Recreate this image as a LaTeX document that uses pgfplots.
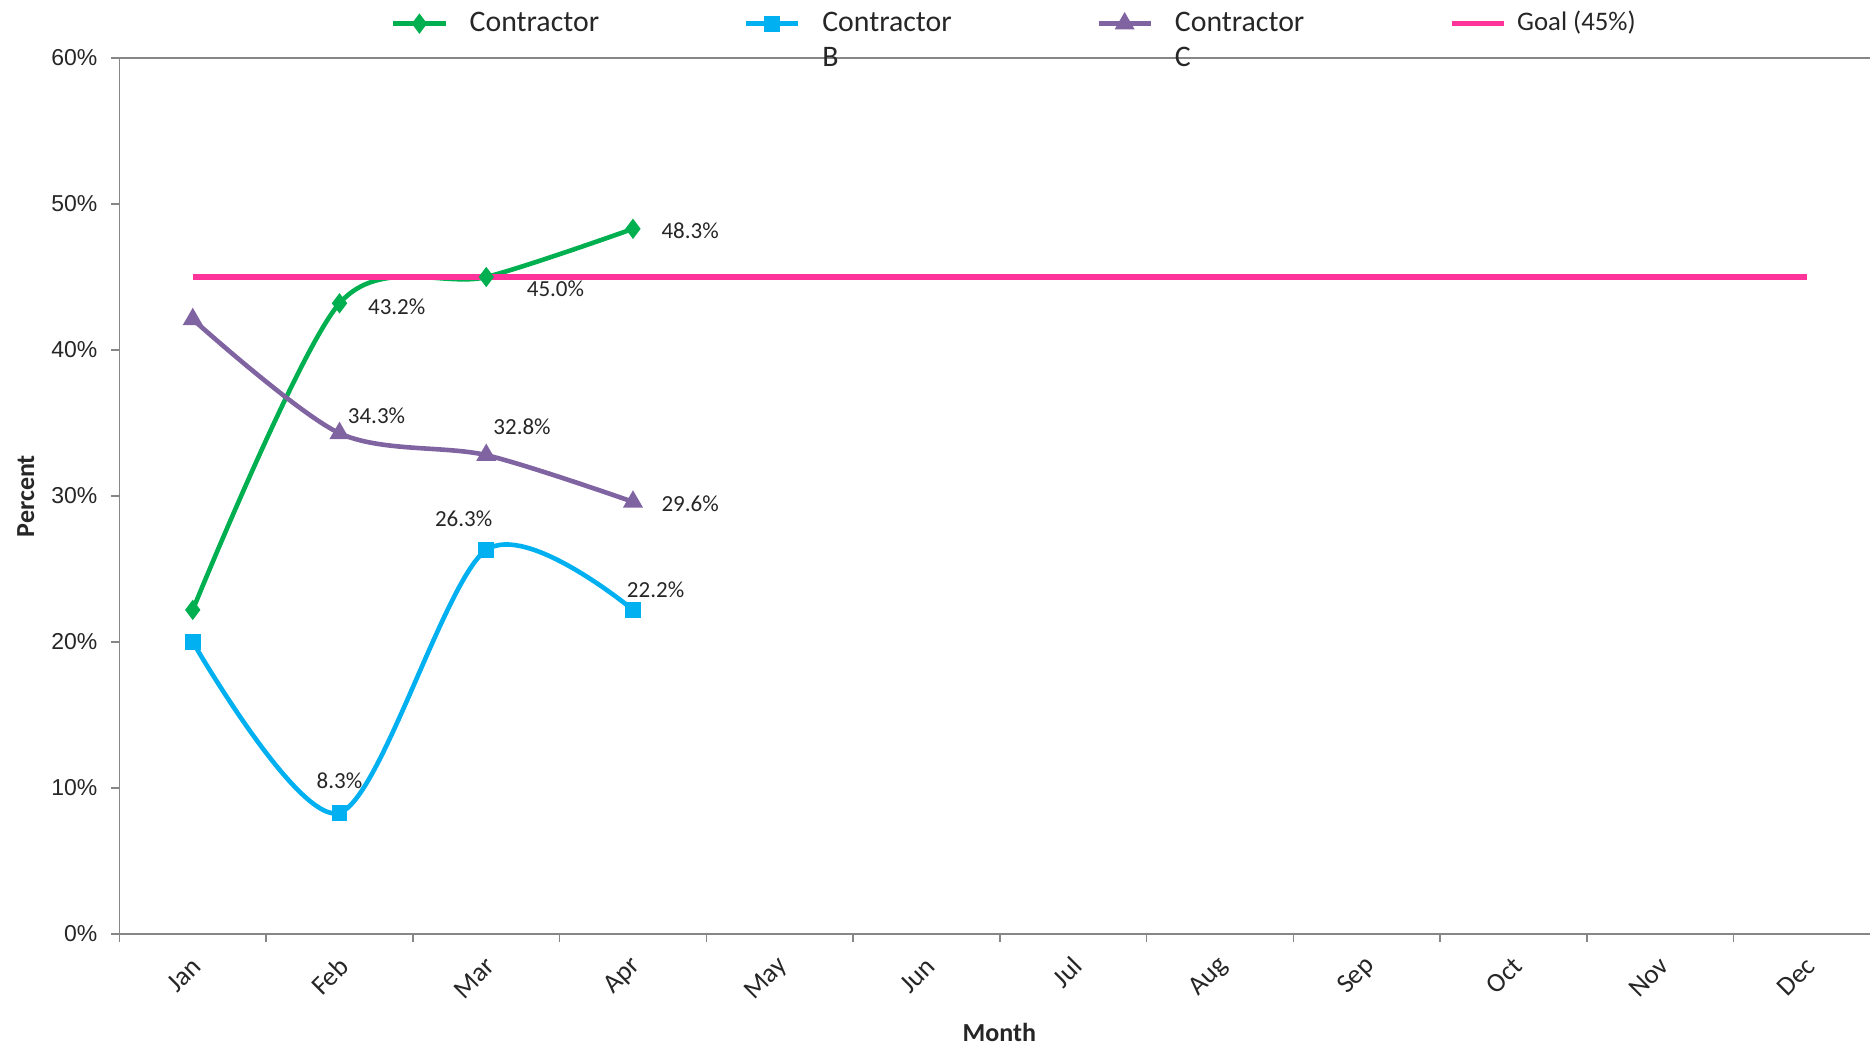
\documentclass[border=0pt]{standalone}
\usepackage{pgfplots}
\pgfplotsset{compat=1.18}
\usepackage{pgfplotstable}
\usepackage{fontspec}
\setmainfont{Carlito}
\newfontfamily\arialfont{Liberation Sans}
\definecolor{cgreen}{RGB}{0,176,80}
\definecolor{cblue}{RGB}{0,176,240}
\definecolor{cpurple}{RGB}{128,100,162}
\definecolor{cpink}{RGB}{255,51,153}
\definecolor{axgray}{RGB}{134,134,134}
\definecolor{txt}{RGB}{38,38,38}

\pgfplotstableread{
x y
0 22.2
1 43.2
2 45.0
3 48.3
}\greendata
\pgfplotstableread{
x y
0 20.0
1 8.3
2 26.3
3 22.2
}\bluedata
\pgfplotstableread{
x y
0 42.1
1 34.3
2 32.8
3 29.6
}\purpledata
\pgfplotstableread{
x y
0 45
1 45
2 45
3 45
4 45
5 45
6 45
7 45
8 45
9 45
10 45
11 45
}\goaldata
\pgfplotstableread{
x y dx dy
1 43.2 28.6 -1.8
2 45.0 34.6 -6
3 48.3 28.6 -1.2
1 34.3 18.5 8.9
2 32.8 17.9 14.3
3 29.6 28.6 -1.2
1 8.3 0 16.1
2 26.3 -11.3 15.5
3 22.2 11.3 10.1
}\labeldata

\begin{document}
\begin{tikzpicture}
\begin{axis}[
  scale only axis, width=875.3pt, height=438pt,
  xmin=-0.5, xmax=11.43, ymin=0, ymax=60,
  axis x line*=bottom, axis y line*=left,
  axis line style={draw=axgray, line width=0.8pt, -},
  tick align=outside,
  tick style={draw=axgray, line width=0.8pt},
  major tick length=4pt,
  /pgf/number format/assume math mode=true,
  xtick={-0.5,0.5,1.5,2.5,3.5,4.5,5.5,6.5,7.5,8.5,9.5,10.5},
  xticklabels={},
  extra x ticks={0,1,2,3,4,5,6,7,8,9,10,11},
  extra x tick labels={Jan,Feb,Mar,Apr,May,Jun,Jul,Aug,Sep,Oct,Nov,Dec},
  extra x tick style={major tick length=0pt},
  xticklabel style={xshift=4.5pt, yshift=-11.5pt, rotate=45, anchor=east, font=\fontsize{13.5}{15}\selectfont, text=txt},
  ytick={0,10,20,30,40,50,60},
  yticklabels={0\%,10\%,20\%,30\%,40\%,50\%,60\%},
  yticklabel style={xshift=-3.5pt, font=\arialfont\fontsize{11.5}{13}\selectfont, text=txt},
  extra y ticks={60}, extra y tick labels={},
  extra y tick style={grid=major, major grid style={draw=axgray, line width=0.8pt}},
  xlabel={Month},
  xlabel style={at={(axis description cs:0.5027,-0.1128)}, anchor=center, font=\bfseries\fontsize{13}{15}\selectfont, text=txt},
  ylabel={Percent},
  ylabel style={at={(axis description cs:-0.0534,0.5)}, anchor=center, font=\bfseries\fontsize{13}{15}\selectfont, text=txt},
  legend columns=4,
  legend cell align=left,
  legend style={at={(axis description cs:0.155,1.059)}, anchor=north west, draw=none, fill=none, inner sep=0pt,
    font=\fontsize{14.9}{17.5}\selectfont, text=txt,
    /tikz/every odd column/.append style={column sep=9pt},
    /tikz/every even column/.append style={column sep=4pt}},
  legend image code/.code={\draw[#1, mark repeat=2, mark phase=2] plot coordinates {(0pt,0pt) (13pt,0pt) (26pt,0pt)};},
]
\coordinate (O) at (rel axis cs:0,0);
\addplot[cgreen, line width=2.3pt, smooth, mark=diamond*, mark size=3.2pt, mark options={solid}] table[x=x,y=y] {\greendata};
\addlegendentry{\parbox[t]{131pt}{Contractor}}
\addplot[cblue, line width=2.3pt, smooth, mark=square*, mark size=2.8pt, mark options={solid}] table[x=x,y=y] {\bluedata};
\addlegendentry{\parbox[t]{131pt}{Contractor\\B}}
\addplot[cpurple, line width=2.3pt, smooth, mark=triangle*, mark size=3.5pt, mark options={solid}] table[x=x,y=y] {\purpledata};
\addlegendentry{\parbox[t]{131pt}{Contractor\\C}}
\addplot[cpink, line width=2.6pt, mark=none] table[x=x,y=y] {\goaldata};
\addlegendentry{\hspace*{-5.5pt}\raisebox{1.6pt}{\fontsize{13.4}{15}\selectfont Goal (45\%)}}
\addplot[draw=none, mark=none, forget plot,
  point meta=explicit,
  visualization depends on={\thisrow{dx}\as\lblx},
  visualization depends on={\thisrow{dy}\as\lbly},
  nodes near coords={\pgfmathprintnumber[fixed,fixed zerofill,precision=1,assume math mode=true]{\pgfplotspointmeta}\%},
  every node near coord/.append style={anchor=center, xshift=\lblx pt, yshift=\lbly pt, font=\fontsize{11.5}{13}\selectfont, text=txt},
] table[x=x,y=y,meta=y] {\labeldata};
\end{axis}
\pgfresetboundingbox
\path (O) ++(-59.7pt,-55.5pt) rectangle ++(935pt,522.5pt);
\end{tikzpicture}
\end{document}
